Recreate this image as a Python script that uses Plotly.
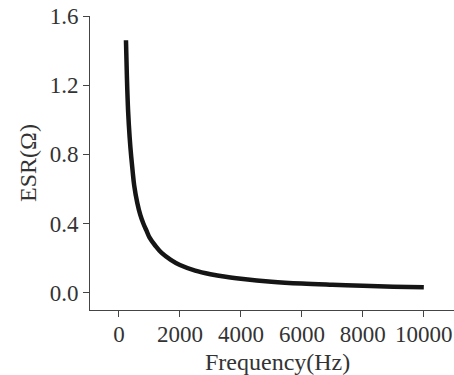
import plotly.graph_objects as go

freq_hz = [230, 260, 300, 350, 400, 450, 500, 600, 700, 800, 900, 1000, 1200, 1400,
           1700, 2000, 2500, 3000, 3500, 4000, 5000, 6000, 7000, 8000, 9000, 10000]
esr_ohm = [1.46, 1.25, 1.05, 0.90, 0.79, 0.70, 0.62, 0.52, 0.45, 0.40, 0.36, 0.32, 0.27, 0.23,
           0.19, 0.16, 0.128, 0.107, 0.092, 0.081, 0.064, 0.053, 0.046, 0.040, 0.035, 0.031]

x_ticks = [0, 2000, 4000, 6000, 8000, 10000]
y_ticks = [0.0, 0.4, 0.8, 1.2, 1.6]

fig = go.Figure()
fig.add_trace(go.Scatter(x=freq_hz, y=esr_ohm, mode="lines",
                         line=dict(color="#151515", width=4.5, shape="spline"),
                         showlegend=False))

font = dict(family="Liberation Serif", size=23, color="#333333")
fig.update_layout(
    width=454, height=375,
    margin=dict(l=90, r=0, t=16, b=65),
    plot_bgcolor="white", paper_bgcolor="white",
    font=font,
    xaxis=dict(range=[-950, 10990], tickvals=x_ticks, ticktext=[str(v) for v in x_ticks],
               showline=True, linecolor="#444444", linewidth=1, ticks="outside",
               ticklen=6, tickcolor="#444444", showgrid=False, zeroline=False,
               ticklabelstandoff=-3),
    yaxis=dict(range=[-0.1, 1.6], tickvals=y_ticks, ticktext=[f"{v:.1f}" for v in y_ticks],
               showline=True, linecolor="#444444", linewidth=1, ticks="outside",
               ticklen=6, tickcolor="#444444", showgrid=False, zeroline=False,
               title=dict(text="ESR(Ω)", font=dict(size=24), standoff=6)),
    annotations=[dict(text="Frequency(Hz)", xref="paper", yref="paper",
                      x=0.515, y=-0.178, xanchor="center", yanchor="middle",
                      showarrow=False, font=dict(size=24))],
)
fig.write_html("out.html")
